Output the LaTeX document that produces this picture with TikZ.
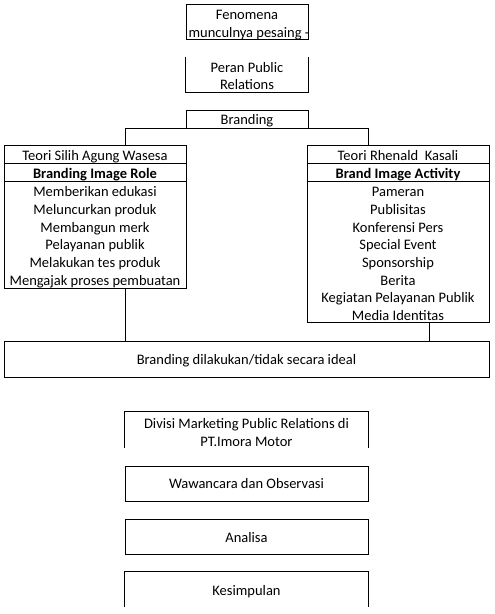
\documentclass[tikz,border=0pt]{standalone}
\usepackage{fontspec}
\setmainfont{Carlito}
\begin{document}
\begin{tikzpicture}[x=1pt,y=-1pt,
  ln/.style={line width=0.8pt, black},
  box/.style={draw, ln, inner sep=0pt, rectangle},
  open/.style={inner sep=0pt, rectangle},
  txt/.style={inner sep=0pt, anchor=mid, yshift=-2.8pt, font=\fontsize{14.5pt}{17.7pt}\selectfont},
  btxt/.style={txt, font=\fontsize{14.5pt}{17.7pt}\selectfont\bfseries}]
\useasboundingbox (0,0) rectangle (495,614);
% top boxes
\node[box, minimum width=122pt, minimum height=35pt] (fen) at (247,21.5) {};
\node[txt] (fen1) at (247,14) {Fenomena};
\node[txt] (fen2) at (249,32) {munculnya pesaing -};
\node[open, minimum width=122pt, minimum height=35pt] (per) at (247,74.5) {};
\draw[ln] (per.north west) -- (per.south west) -- (per.south east) -- (per.north east);
\node[txt] (per1) at (247,67) {Peran Public};
\node[txt] (per2) at (247,84) {Relations};
\node[box, minimum width=122pt, minimum height=18pt] (brd) at (247,119) {};
\node[txt] (brd1) at (247,119) {Branding};
% left theory box
\node[box, minimum width=182pt, minimum height=143pt] (sil) at (95,216.5) {};
\draw[ln] (sil.west |- 0,163) -- (sil.east |- 0,163);
\draw[ln] (sil.west |- 0,181) -- (sil.east |- 0,181);
\node[txt] (s0) at (95,155) {Teori Silih Agung Wasesa};
\node[btxt] (s1) at (95,173) {Branding Image Role};
\node[txt] (s2) at (95,191.5) {Memberikan edukasi};
\node[txt] (s3) at (95,209.2) {Meluncurkan produk};
\node[txt] (s4) at (95,226.9) {Membangun merk};
\node[txt] (s5) at (95,244.6) {Pelayanan publik};
\node[txt] (s6) at (95,262.3) {Melakukan tes produk};
\node[txt] (s7) at (95,280) {Mengajak proses pembuatan};
% right theory box
\node[box, minimum width=182pt, minimum height=177pt] (rhe) at (398,233.5) {};
\draw[ln] (rhe.west |- 0,163) -- (rhe.east |- 0,163);
\draw[ln] (rhe.west |- 0,181) -- (rhe.east |- 0,181);
\node[txt] (r0) at (398,155) {Teori Rhenald\ \ Kasali};
\node[btxt] (r1) at (398,173) {Brand Image Activity};
\node[txt] (r2) at (398,191.5) {Pameran};
\node[txt] (r3) at (398,209.2) {Publisitas};
\node[txt] (r4) at (398,226.9) {Konferensi Pers};
\node[txt] (r5) at (398,244.6) {Special Event};
\node[txt] (r6) at (398,262.3) {Sponsorship};
\node[txt] (r7) at (398,280) {Berita};
\node[txt] (r8) at (398,297.7) {Kegiatan Pelayanan Publik};
\node[txt] (r9) at (398,315.4) {Media Identitas};
% ideal box
\node[box, minimum width=485pt, minimum height=36pt] (idl) at (246.5,359) {};
\node[txt] (idl1) at (246.5,359) {Branding dilakukan/tidak secara ideal};
% tree connectors
\coordinate (jl) at (125,128);
\coordinate (jr) at (368,128);
\draw[ln] (jl) -- (jr);
\draw[ln] (jl) -- (jl |- sil.north);
\draw[ln] (jr) -- (jr |- rhe.north);
\draw[ln] (sil.south -| jl) -- (idl.north -| jl);
\coordinate (kr) at (429,322);
\draw[ln] (kr) -- (kr |- idl.north);
% lower boxes
\node[open, minimum width=243pt, minimum height=36pt] (div) at (246.5,430) {};
\draw[ln] (div.south west) -- (div.north west) -- (div.north east) -- (div.south east);
\node[txt] (div1) at (246.5,423) {Divisi Marketing Public Relations di};
\node[txt] (div2) at (246.5,441) {PT.Imora Motor};
\node[box, minimum width=243pt, minimum height=35pt] (waw) at (246.5,483.5) {};
\node[txt] (waw1) at (246.5,483) {Wawancara dan Observasi};
\node[box, minimum width=243pt, minimum height=35pt] (ana) at (246.5,536.5) {};
\node[txt] (ana1) at (246.5,537) {Analisa};
\node[open, minimum width=243pt, minimum height=35pt] (kes) at (246.5,589.5) {};
\draw[ln] (kes.south west) -- (kes.north west) -- (kes.north east) -- (kes.south east);
\node[txt] (kes1) at (246.5,590) {Kesimpulan};
\end{tikzpicture}
\end{document}
